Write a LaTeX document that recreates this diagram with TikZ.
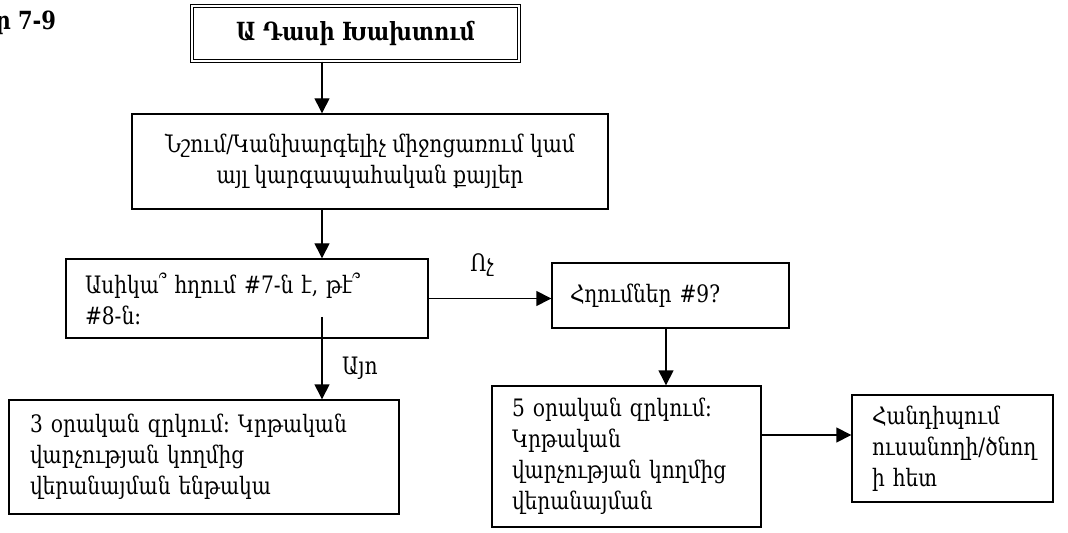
\documentclass[tikz,border=0pt]{standalone}
\usepackage{fontspec}
\setmainfont{DejaVu Serif}[FakeStretch=0.84]
\usetikzlibrary{positioning, arrows.meta}

\begin{document}
\begin{tikzpicture}[x=0.5pt, y=-0.5pt,
plainbox/.style={rectangle, draw=black, line width=0.7pt, font=\fontsize{12}{15.5}\selectfont, inner ysep=0pt, align=left},
titlebox/.style={rectangle, draw=black, double, double distance=1.2pt, line width=0.6pt, font=\fontsize{12.5}{15}\selectfont\bfseries},
arrowline/.style={-{Triangle[length=7.5pt,width=7.5pt]}, line width=0.7pt},
labeltext/.style={font=\fontsize{12}{15.5}\selectfont},
]
\useasboundingbox (0,0) rectangle (1068,533);

\node[anchor=east, font=\fontsize{12.5}{15}\selectfont\bfseries] (figno) at (63,22) {Գծապատկեր 7-9};
\node[titlebox, minimum width=163.5pt, minimum height=27.5pt] (title) at (355.5,33.5) {Ա Դասի Խախտում};
\node[plainbox, minimum width=238pt, minimum height=47.5pt, align=center] (note) at (370,161.5) {Նշում/Կանխարգելիչ միջոցառում կամ\\այլ կարգապահական քայլեր};
\node[plainbox, text width=162pt, inner xsep=9.5pt, minimum height=39.5pt] (ask) at (247,298.5) {Ասիկա՞ հղում \#7-ն է, թէ՞\\\#8-ն։};
\node[plainbox, text width=100.5pt, inner xsep=9pt, minimum height=32.5pt] (refs) at (670.5,295.5) {Հղումներ \#9?};
\node[plainbox, text width=174pt, inner xsep=10.5pt, minimum height=57pt] (three) at (204,457) {3 օրական զրկում։ Կրթական\\վարչության կողմից\\վերանայման ենթակա};
\node[plainbox, text width=114.5pt, inner xsep=10pt, minimum height=70.5pt] (five) at (626.5,456.5) {5 օրական զրկում։\\Կրթական\\վարչության կողմից\\վերանայման};
\node[plainbox, text width=80.5pt, inner xsep=10pt, minimum height=53.5pt] (meet) at (952.5,448.5) {Հանդիպում\\ուսանողի/ծնող\\ի հետ};

\node[labeltext] (no) at (482,265) {Ոչ};
\node[labeltext, anchor=west] (yes) at (335,368) {Այո};

%Lines
\coordinate (mainaxis) at (322,0);
\coordinate (sideaxis) at (666,0);
\coordinate (yesstart) at (322,317);
\coordinate (meetlevel) at (0,435);
\draw[arrowline] (mainaxis |- title.south) -- (mainaxis |- note.north);
\draw[arrowline] (mainaxis |- note.south) -- (mainaxis |- ask.north);
\draw[arrowline] (yesstart) -- (mainaxis |- three.north);
\draw[arrowline] (ask.east) -- (ask.east -| refs.west);
\draw[arrowline] (sideaxis |- refs.south) -- (sideaxis |- five.north);
\draw[arrowline] (meetlevel -| five.east) -- (meetlevel -| meet.west);
\end{tikzpicture}
\end{document}
